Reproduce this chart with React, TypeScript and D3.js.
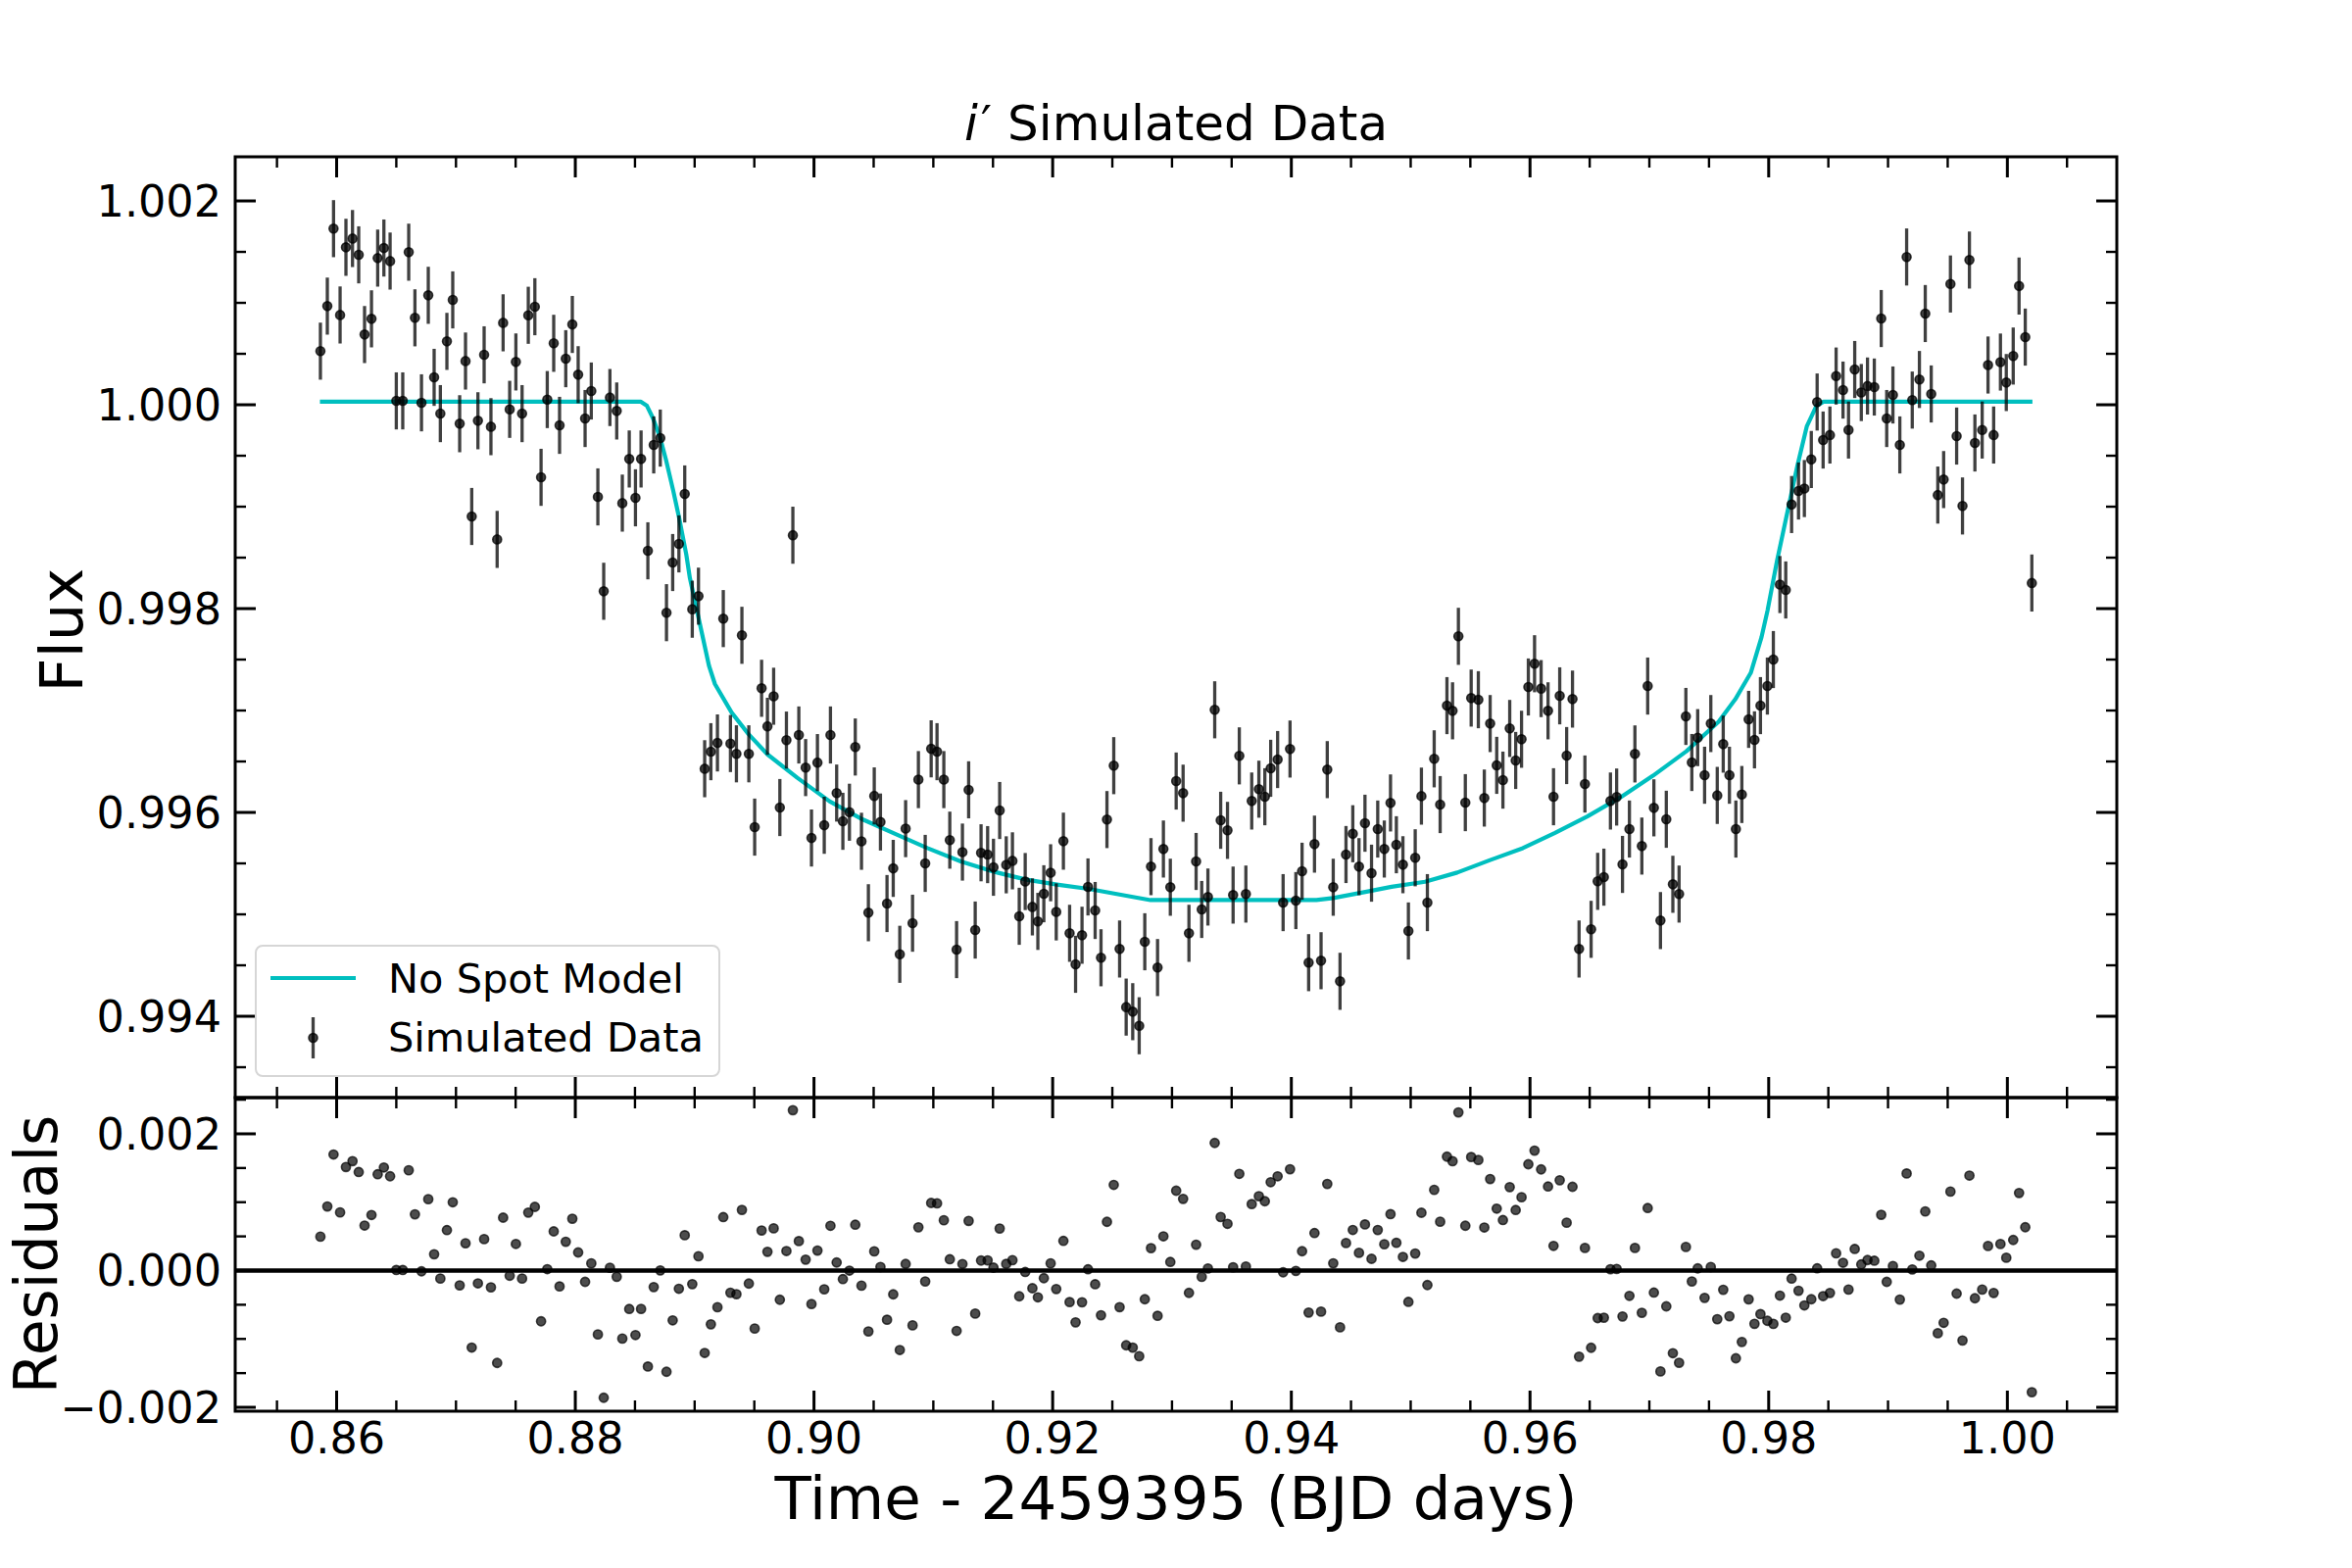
import * as d3 from "d3";

// time - 2459395 (BJD days)
const timeBJD = [
  0.85864, 0.85922, 0.85974, 0.86029, 0.86078, 0.86133, 0.86185, 0.86234, 0.86292, 0.86344,
  0.86396, 0.86448, 0.865, 0.86554, 0.86604, 0.86656, 0.86711, 0.86768, 0.86817, 0.86869,
  0.86924, 0.86973, 0.87031, 0.8708, 0.87132, 0.87184, 0.87236, 0.87293, 0.87345, 0.87395,
  0.8745, 0.87502, 0.87554, 0.87606, 0.87661, 0.87713, 0.87765, 0.87819, 0.87868, 0.8792,
  0.87975, 0.88024, 0.88082, 0.88134, 0.88189, 0.88238, 0.8829, 0.88347, 0.88394, 0.88452,
  0.88504, 0.88551, 0.88608, 0.88657, 0.88712, 0.88764, 0.88816, 0.88868, 0.88917,
  0.8898, 0.89032, 0.89084, 0.89136, 0.89191, 0.8924, 0.893, 0.8935, 0.89396, 0.89454,
  0.89503, 0.89561, 0.8961, 0.89662, 0.89714, 0.89769, 0.89823, 0.89873, 0.8993, 0.89979,
  0.90029, 0.90086, 0.90138, 0.9019, 0.90242, 0.90297, 0.90346, 0.90398, 0.90456, 0.90505,
  0.90557, 0.90612, 0.90664, 0.90719, 0.90768, 0.90826, 0.90875, 0.90932, 0.90982, 0.91031,
  0.91088, 0.91138, 0.91195, 0.91244, 0.91296, 0.91351, 0.914, 0.91455, 0.91504, 0.91556,
  0.91611, 0.91663, 0.9172, 0.9177, 0.9183, 0.91876, 0.91926, 0.91983, 0.9203,
  0.9209, 0.92142, 0.92192, 0.92246, 0.92296, 0.92356, 0.92405, 0.92455, 0.92512, 0.92561,
  0.92616, 0.92671, 0.92725, 0.92772, 0.92824, 0.92879, 0.92928, 0.92986, 0.93035, 0.93093,
  0.93142, 0.93202, 0.93249, 0.93301, 0.93358, 0.93408, 0.93465, 0.93512, 0.93564, 0.93619,
  0.93668, 0.93728, 0.93778, 0.93827, 0.93885, 0.93931, 0.93989, 0.94038, 0.9409, 0.94145,
  0.94194, 0.94249, 0.94301, 0.94351, 0.94408, 0.94458, 0.94515, 0.94567, 0.94617, 0.94672,
  0.94724, 0.94779, 0.94831, 0.9488, 0.94935, 0.94981,
  0.95038, 0.9509, 0.9514, 0.95197, 0.95247, 0.95304, 0.95351, 0.954, 0.95458, 0.95507,
  0.95567, 0.95617, 0.95666, 0.95721, 0.95773, 0.9583, 0.9588, 0.95929, 0.95986, 0.96038,
  0.96093, 0.96151, 0.96197, 0.96249, 0.96307, 0.96356, 0.96411, 0.9646, 0.96512, 0.96567,
  0.96619, 0.96674, 0.96726, 0.96775, 0.96833, 0.96879, 0.96937, 0.96986, 0.97038, 0.97093,
  0.97142, 0.97197, 0.97249, 0.97306, 0.97356, 0.97405, 0.97463, 0.97515, 0.97569, 0.97619,
  0.97671, 0.97725, 0.97775, 0.97832, 0.97881, 0.97931,
  0.97989, 0.98039, 0.98094, 0.98143, 0.98192, 0.9825, 0.98299, 0.98357, 0.98406, 0.98456,
  0.98513, 0.98565, 0.98623, 0.98669, 0.98721, 0.98776, 0.98828, 0.98885, 0.98943, 0.98989,
  0.99041, 0.99099, 0.99156, 0.99203, 0.99263, 0.99312, 0.99362, 0.99417, 0.99466, 0.99523,
  0.99575, 0.99624, 0.99682, 0.99728, 0.99789, 0.99838, 0.99885, 0.99942, 0.99991, 1.00049,
  1.00098, 1.0015, 1.00205,
];

const fluxSim = [
  1.000526, 1.000968, 1.001728, 1.000881, 1.001545, 1.001631, 1.001471, 1.000689, 1.000843, 1.001439,
  1.001538, 1.00141, 1.000038, 1.000038, 1.001497, 1.000853, 1.000019, 1.001074, 1.000269, 0.999913,
  1.000622, 1.001029, 0.999814, 1.000429, 0.998904, 0.999843, 1.00049, 0.999785, 0.998679, 1.000804,
  0.999955, 1.00042, 0.999913, 1.000878, 1.000962, 0.999288, 1.000051, 1.000603, 0.999798, 1.000452,
  1.000788, 1.000295, 0.999865, 1.000135, 0.999096, 0.99817, 1.000071, 0.999939, 0.999035, 0.999468,
  0.999087, 0.999468, 0.998567, 0.999606, 0.999673, 0.99796, 0.998452, 0.998635, 0.999125,
  0.997994, 0.998122, 0.996429, 0.996596, 0.996682, 0.997902, 0.996676, 0.996575, 0.997738, 0.996575,
  0.995856, 0.997218, 0.996845, 0.99714, 0.996048, 0.99671, 0.99872, 0.99676, 0.99644, 0.995749,
  0.996489, 0.995874, 0.99676, 0.99619, 0.995913, 0.996002, 0.996642, 0.995717, 0.995016, 0.996162,
  0.995906, 0.995106, 0.995451, 0.994608, 0.995841, 0.994913, 0.996322, 0.9955, 0.996624, 0.996596,
  0.996322, 0.995728, 0.994654, 0.995611, 0.996222, 0.994846, 0.995604, 0.995586, 0.995462, 0.996019,
  0.995486, 0.995525, 0.994981, 0.995322, 0.995073, 0.994931, 0.995202, 0.995408, 0.995024,
  0.995718, 0.994814, 0.99451, 0.994795, 0.995269, 0.995038, 0.994574, 0.99593, 0.996459, 0.99466,
  0.99409, 0.994045, 0.993907, 0.994731, 0.995468, 0.994478, 0.995641, 0.995266, 0.996308, 0.996189,
  0.994814, 0.995519, 0.995048, 0.99517, 0.997007, 0.995923, 0.995824, 0.995189, 0.996555, 0.995199,
  0.996112, 0.996228, 0.996154, 0.996433, 0.996519, 0.995115, 0.996622, 0.995135, 0.995423, 0.994526,
  0.995689, 0.994545, 0.99642, 0.995266, 0.994343, 0.995587, 0.995791, 0.995468, 0.995894, 0.995404,
  0.995837, 0.995641, 0.996093, 0.995683, 0.995487, 0.994837,
  0.995555, 0.99616, 0.995115, 0.996526, 0.996077, 0.997048, 0.996997, 0.997728, 0.996096, 0.997122,
  0.997106, 0.996141, 0.996872, 0.996462, 0.996317, 0.996824, 0.99651, 0.996718, 0.997231, 0.997459,
  0.997215, 0.996997, 0.996154, 0.997144, 0.996558, 0.997112, 0.99466, 0.996279, 0.994853, 0.995324,
  0.995365, 0.996112, 0.996151, 0.99549, 0.995837, 0.996574, 0.99567, 0.99724, 0.996045, 0.994939,
  0.995933, 0.995295, 0.995199, 0.996942, 0.99649, 0.996734, 0.996365, 0.996872, 0.996167, 0.99667,
  0.996365, 0.995837, 0.996176, 0.996913, 0.996712, 0.997048,
  0.99724, 0.9975, 0.998236, 0.998183, 0.999021, 0.999154, 0.999178, 0.999463, 1.000027, 0.999654,
  0.999703, 1.000282, 1.000144, 0.999752, 1.000346, 1.00012, 1.000184, 1.000174, 1.000846, 0.999865,
  1.000096, 0.999606, 1.00145, 1.000046, 1.000248, 1.000895, 1.000106, 0.999114, 0.999266, 1.001185,
  0.999693, 0.999007, 1.00142, 0.999625, 0.999752, 1.00039, 0.999703, 1.000419, 1.000218, 1.000478,
  1.001165, 1.000664, 0.998251,
];

const fluxErr = 0.00028;

// "No Spot Model" curve
const modelTime = [
  0.8586, 0.8855, 0.886, 0.8865, 0.8871, 0.8876, 0.8882, 0.8887, 0.8893, 0.8896,
  0.8904, 0.8912, 0.8917, 0.8931, 0.8945, 0.8961, 0.8986, 0.9013, 0.9041, 0.9068,
  0.9095, 0.9123, 0.915, 0.9178, 0.9205, 0.923, 0.9282, 0.9421, 0.9435, 0.9462,
  0.9484, 0.9512, 0.9539, 0.9566, 0.9594, 0.9621, 0.9648, 0.9676, 0.9703, 0.9731,
  0.9758, 0.9772, 0.9785, 0.9794, 0.9799, 0.9807, 0.9815, 0.9824, 0.9832, 0.984,
  0.9846, 1.0021,
];
const modelFlux = [
  1.00003, 1.00003, 0.99999, 0.99987, 0.99968, 0.99946, 0.99916, 0.99889, 0.99853, 0.9983,
  0.99787, 0.99744, 0.99726, 0.99698, 0.99677, 0.99657, 0.99634, 0.99611, 0.99593, 0.99579,
  0.99565, 0.99552, 0.99542, 0.99534, 0.99529, 0.99525, 0.99514, 0.99514, 0.99516, 0.99522,
  0.99527, 0.99532, 0.99541, 0.99553, 0.99565, 0.9958, 0.99596, 0.99615, 0.99636, 0.9966,
  0.99689, 0.99711, 0.99737, 0.99772, 0.99798, 0.99847, 0.99891, 0.9994, 0.99979, 0.99999,
  1.00003, 1.00003,
];

const xTicks = [0.86, 0.88, 0.9, 0.92, 0.94, 0.96, 0.98, 1.0];
const xTickLabels = ["0.86", "0.88", "0.90", "0.92", "0.94", "0.96", "0.98", "1.00"];
const fluxTicks = [0.994, 0.996, 0.998, 1.0, 1.002];
const fluxTickLabels = ["0.994", "0.996", "0.998", "1.000", "1.002"];
const residTicks = [-0.002, 0, 0.002];
const residTickLabels = ["\u22120.002", "0.000", "0.002"];

const FONT = "DejaVu Sans";
const CYAN = "#00bfbf";
const L = 240;
const R = 2160;
const TOP = 160;
const MID = 1120;
const BOT = 1440;
const MAJ = 21;
const MIN = 11;

function Ticks({ xs, ys, minorXs, minorYs, x, y, top, bottom }) {
  const out = [];
  const tick = (key, x1, y1, x2, y2, major) =>
    out.push(
      <line key={key} x1={x1} y1={y1} x2={x2} y2={y2} stroke="#000" strokeWidth={major ? 3 : 2.4} />
    );
  [...xs.map((v) => [v, true]), ...minorXs.map((v) => [v, false])].forEach(([v, major], i) => {
    const px = x(v);
    const len = major ? MAJ : MIN;
    tick("xt" + i, px, top, px, top + len, major);
    tick("xb" + i, px, bottom, px, bottom - len, major);
  });
  [...ys.map((v) => [v, true]), ...minorYs.map((v) => [v, false])].forEach(([v, major], i) => {
    const py = y(v);
    const len = major ? MAJ : MIN;
    tick("yl" + i, L, py, L + len, py, major);
    tick("yr" + i, R, py, R - len, py, major);
  });
  return <g>{out}</g>;
}

export default function App() {
  const x = d3.scaleLinear().domain([0.8515, 1.00917]).range([L, R]);
  const yF = d3.scaleLinear().domain([0.993202, 1.002433]).range([MID, TOP]);
  const yR = d3.scaleLinear().domain([-0.002057, 0.00253]).range([BOT, MID]);

  const modelAt = d3.scaleLinear().domain(modelTime).range(modelFlux).clamp(true);
  const residuals = fluxSim.map((f, i) => f - modelAt(timeBJD[i]));

  const modelLine = d3
    .line<number>()
    .x((t) => x(t))
    .y((_, i) => yF(modelFlux[i]))(modelTime);

  const xMinor = d3.range(171, 202).filter((i) => i % 4 !== 0).map((i) => i / 200);
  const fluxMinor = d3.range(1987, 2005).filter((i) => i % 4 !== 0).map((i) => i / 2000);
  const residMinor = d3.range(-4, 6).filter((i) => i % 4 !== 0).map((i) => i / 2000);

  return (
    <svg
      width={2400}
      height={1600}
      style={{ position: "absolute", left: 0, top: 0, background: "#fff" }}
      fontFamily={FONT}
    >
      <defs>
        <clipPath id="clipTop">
          <rect x={L} y={TOP} width={R - L} height={MID - TOP} />
        </clipPath>
        <clipPath id="clipRes">
          <rect x={L} y={MID} width={R - L} height={BOT - MID} />
        </clipPath>
      </defs>
      <rect x={0} y={0} width={2400} height={1600} fill="#fff" />

      {/* top panel */}
      <g clipPath="url(#clipTop)">
        <path d={modelLine} fill="none" stroke={CYAN} strokeWidth={4.2} strokeLinejoin="round" />
        <g stroke="#000" strokeOpacity={0.75} strokeWidth={3.3}>
          {timeBJD.map((t, i) => (
            <line key={i} x1={x(t)} x2={x(t)} y1={yF(fluxSim[i] - fluxErr)} y2={yF(fluxSim[i] + fluxErr)} />
          ))}
        </g>
        <g fill="#000" fillOpacity={0.75} stroke="#000" strokeOpacity={0.75} strokeWidth={1.6}>
          {timeBJD.map((t, i) => (
            <circle key={i} cx={x(t)} cy={yF(fluxSim[i])} r={4.5} />
          ))}
        </g>
      </g>

      {/* residual panel */}
      <g clipPath="url(#clipRes)">
        <g fill="#000" fillOpacity={0.7} stroke="#000" strokeOpacity={0.7} strokeWidth={1.6}>
          {timeBJD.map((t, i) => (
            <circle key={i} cx={x(t)} cy={yR(residuals[i])} r={4.6} />
          ))}
        </g>
        <line x1={L} x2={R} y1={yR(0)} y2={yR(0)} stroke="#000" strokeWidth={4.5} />
      </g>

      <Ticks xs={xTicks} ys={fluxTicks} minorXs={xMinor} minorYs={fluxMinor} x={x} y={yF} top={TOP} bottom={MID} />
      <Ticks xs={xTicks} ys={residTicks} minorXs={xMinor} minorYs={residMinor} x={x} y={yR} top={MID} bottom={BOT} />

      <rect x={L} y={TOP} width={R - L} height={MID - TOP} fill="none" stroke="#000" strokeWidth={3} />
      <rect x={L} y={MID} width={R - L} height={BOT - MID} fill="none" stroke="#000" strokeWidth={3} />

      {/* tick labels */}
      <g fontSize={44.5} fill="#000">
        {fluxTicks.map((v, i) => (
          <text key={"f" + i} x={226} y={yF(v) + 16} textAnchor="end">
            {fluxTickLabels[i]}
          </text>
        ))}
        {residTicks.map((v, i) => (
          <text key={"r" + i} x={226} y={yR(v) + 16} textAnchor="end">
            {residTickLabels[i]}
          </text>
        ))}
        {xTicks.map((v, i) => (
          <text key={"x" + i} x={x(v)} y={1483} textAnchor="middle">
            {xTickLabels[i]}
          </text>
        ))}
      </g>

      {/* title and axis labels */}
      <text x={1200} y={143} fontSize={50} textAnchor="middle">
        <tspan fontStyle="italic">i</tspan>
        <tspan dx={3}>{"\u2032"}</tspan>
        <tspan> Simulated Data</tspan>
      </text>
      <text x={1200} y={1550} fontSize={61} textAnchor="middle">
        Time - 2459395 (BJD days)
      </text>
      <text transform="translate(84,643) rotate(-90)" fontSize={61} textAnchor="middle">
        Flux
      </text>
      <text transform="translate(58,1280) rotate(-90)" fontSize={60} textAnchor="middle">
        Residuals
      </text>

      {/* legend */}
      <g>
        <rect x={261} y={965} width={473} height={133} rx={7} fill="#fff" fillOpacity={0.8} stroke="#d6d6d6" strokeWidth={2} />
        <line x1={276} x2={363} y1={998} y2={998} stroke={CYAN} strokeWidth={4.2} />
        <text x={396} y={1013} fontSize={41.5}>
          No Spot Model
        </text>
        <line x1={319.5} x2={319.5} y1={1038} y2={1080} stroke="#000" strokeOpacity={0.75} strokeWidth={3.3} />
        <circle cx={319.5} cy={1059} r={4.5} fill="#000" fillOpacity={0.75} stroke="#000" strokeOpacity={0.75} strokeWidth={1.6} />
        <text x={396} y={1073} fontSize={41.5}>
          Simulated Data
        </text>
      </g>
    </svg>
  );
}
